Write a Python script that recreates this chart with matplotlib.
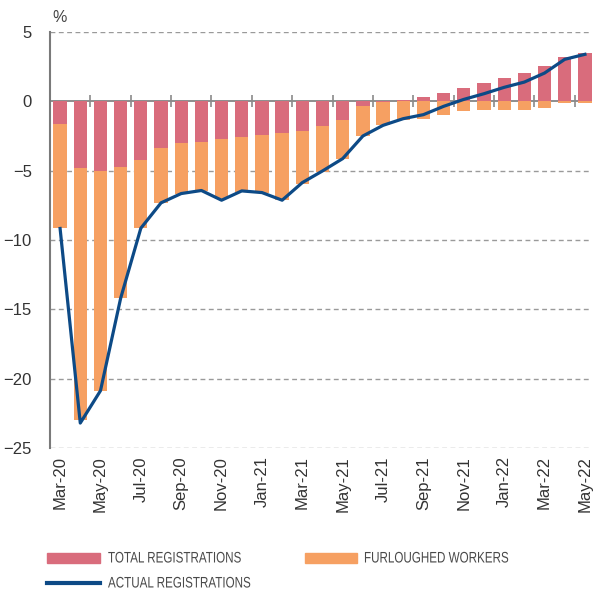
import matplotlib.pyplot as plt
from matplotlib.patches import PathPatch, Rectangle
from matplotlib.lines import Line2D
from matplotlib.textpath import TextPath
from matplotlib.transforms import Affine2D, IdentityTransform
from matplotlib.font_manager import FontProperties
import numpy as np

plt.rcParams['font.family'] = ['Liberation Sans', 'DejaVu Sans']

months = ['Mar-20', 'Apr-20', 'May-20', 'Jun-20', 'Jul-20', 'Aug-20', 'Sep-20',
          'Oct-20', 'Nov-20', 'Dec-20', 'Jan-21', 'Feb-21', 'Mar-21', 'Apr-21',
          'May-21', 'Jun-21', 'Jul-21', 'Aug-21', 'Sep-21', 'Oct-21', 'Nov-21',
          'Dec-21', 'Jan-22', 'Feb-22', 'Mar-22', 'Apr-22', 'May-22']

# variación anual (%)
total_reg = [-1.6, -4.8, -5.0, -4.75, -4.2, -3.4, -3.0, -2.95, -2.7, -2.6,
             -2.4, -2.3, -2.15, -1.8, -1.35, -0.35, -0.05, 0.12, 0.3, 0.62,
             0.95, 1.32, 1.7, 2.07, 2.57, 3.17, 3.52]
furloughed = [-7.57, -18.2, -15.87, -9.45, -4.95, -3.92, -3.68, -3.51, -4.31,
              -3.93, -4.18, -4.78, -3.78, -3.29, -2.78, -2.15, -1.68, -1.32,
              -1.27, -0.96, -0.72, -0.65, -0.65, -0.60, -0.50, -0.14, -0.12]
actual_reg = [-9.17, -23.2, -20.87, -14.2, -9.15, -7.32, -6.65, -6.43, -7.13,
              -6.46, -6.58, -7.13, -5.86, -5.02, -4.13, -2.50, -1.73, -1.25,
              -0.96, -0.36, 0.14, 0.55, 1.01, 1.39, 2.04, 3.03, 3.39]

c_total = '#d96c7c'
c_furl = '#f6a062'
c_line = '#0d4a86'

W, H = 595, 589
fig = plt.figure(figsize=(W / 100, H / 100), dpi=100)
ax = fig.add_axes([50 / W, 1 - 448 / H, 542 / W, 416 / H])

x = np.arange(len(months))
total = np.array(total_reg)
furl = np.array(furloughed)
ax.bar(x, total, width=0.66, color=c_total, zorder=2)
ax.bar(x, furl, width=0.66, bottom=np.minimum(total, 0), color=c_furl, zorder=2)
ax.plot(x, actual_reg, color=c_line, lw=2.3, zorder=3)

# rejilla y eje cero
for v in [5, -5, -10, -15, -20, -25]:
    ax.axhline(v, color='#9a9a9a', lw=1, ls=(0, (3.5, 2.5)), zorder=0)
ax.axhline(0, color='#7a7a7a', lw=1.2, zorder=1)
ax.plot(np.arange(1.5, len(months) - 1, 2), np.zeros(13), ls='none',
        marker='|', ms=8, mew=1.2, color='#8a8a8a', zorder=1)

ax.set_xlim(-0.5, 26.35)
ax.set_ylim(-25, 5)
ax.set_yticks([5, 0, -5, -10, -15, -20, -25])
ax.set_xticks(x[::2])
ax.set_xticklabels(months[::2], rotation=90, fontsize=12, color='#333333')
ax.tick_params(axis='y', length=0, pad=13, labelsize=12, labelcolor='#333333')
ax.tick_params(axis='x', length=0, pad=6)
for s in ['top', 'right', 'bottom']:
    ax.spines[s].set_visible(False)
ax.spines['left'].set_color('#7a7a7a')
ax.spines['left'].set_linewidth(1.5)
fig.text(52 / W, 1 - 17 / H, '%', fontsize=11.5, color='#444444', va='center')


# leyenda en texto estrecho (coordenadas en píxeles)
def label(x0, base, s):
    tp = TextPath((0, 0), s, size=15.3, prop=FontProperties(family='Liberation Sans'))
    tr = Affine2D().scale(0.76, 1).translate(x0, H - base)
    fig.add_artist(PathPatch(tr.transform_path(tp), color='#4a4a4a', lw=0,
                             transform=IdentityTransform()))


fig.add_artist(Rectangle((47 / W, 1 - 563 / H), 53 / W, 10 / H, color=c_total,
                         transform=fig.transFigure))
fig.add_artist(Rectangle((305 / W, 1 - 563 / H), 52 / W, 10 / H, color=c_furl,
                         transform=fig.transFigure))
fig.add_artist(Line2D([47 / W, 100 / W], [1 - 583 / H] * 2, color=c_line, lw=3,
                      transform=fig.transFigure))
label(108, 562.5, 'TOTAL REGISTRATIONS')
label(364, 562.5, 'FURLOUGHED WORKERS')
label(108, 587.5, 'ACTUAL REGISTRATIONS')

fig.savefig('out.png', dpi=100)
